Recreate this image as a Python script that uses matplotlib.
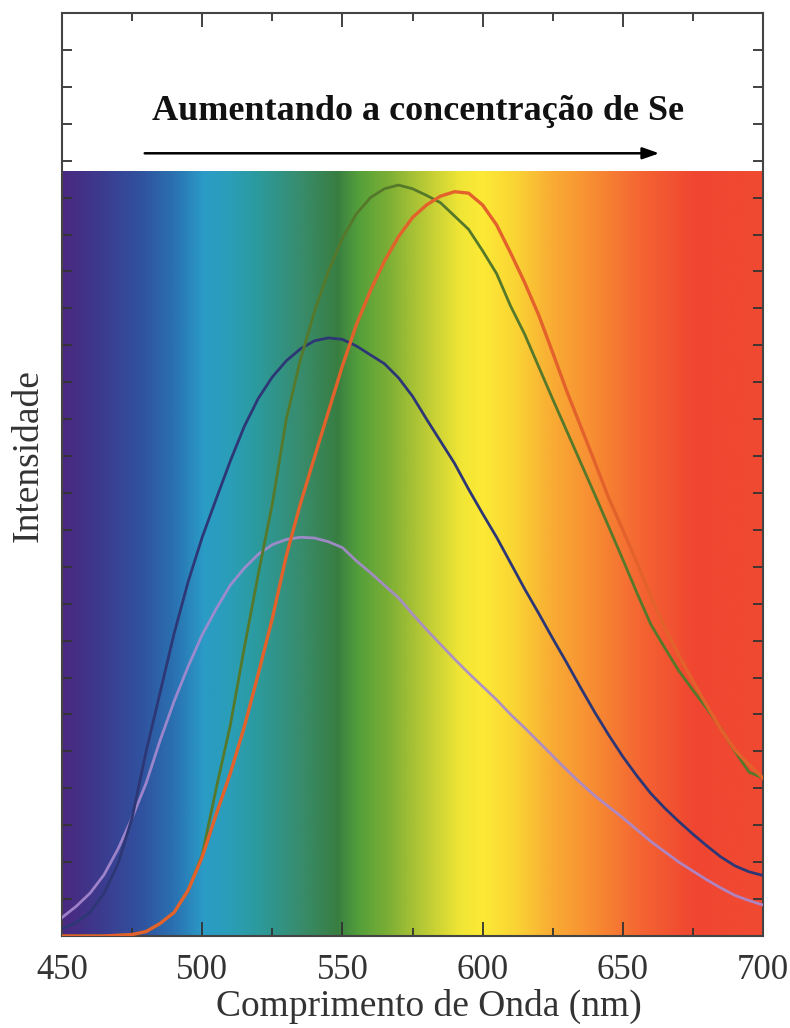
import numpy as np
import matplotlib
matplotlib.use("Agg")
import matplotlib.pyplot as plt
from matplotlib.colors import LinearSegmentedColormap

# Wavelength grid (nm)
wavelength = list(range(450, 701, 5))

# Emission spectra (arbitrary units), increasing Se concentration
se_low = [0.025, 0.040, 0.058, 0.083, 0.118, 0.160, 0.207, 0.265, 0.318, 0.365,
          0.408, 0.443, 0.475, 0.498, 0.517, 0.530, 0.537, 0.540, 0.539, 0.534,
          0.526, 0.508, 0.492, 0.475, 0.458, 0.436, 0.415, 0.395, 0.375, 0.356,
          0.338, 0.320, 0.300, 0.282, 0.263, 0.244, 0.225, 0.207, 0.190, 0.175,
          0.160, 0.144, 0.128, 0.114, 0.100, 0.088, 0.076, 0.065, 0.055, 0.048,
          0.042]
se_mid = [0.010, 0.018, 0.032, 0.058, 0.098, 0.160, 0.250, 0.330, 0.410, 0.480,
          0.540, 0.592, 0.643, 0.690, 0.728, 0.757, 0.779, 0.795, 0.806, 0.810,
          0.808, 0.799, 0.787, 0.775, 0.756, 0.731, 0.700, 0.670, 0.640, 0.605,
          0.572, 0.540, 0.505, 0.470, 0.437, 0.403, 0.370, 0.336, 0.303, 0.272,
          0.243, 0.217, 0.193, 0.173, 0.155, 0.138, 0.122, 0.107, 0.095, 0.087,
          0.082]
se_high = [0.000, 0.000, 0.000, 0.000, 0.001, 0.002, 0.006, 0.017, 0.032, 0.062,
           0.110, 0.200, 0.285, 0.390, 0.490, 0.585, 0.700, 0.780, 0.845, 0.900,
           0.945, 0.978, 1.000, 1.012, 1.017, 1.012, 1.003, 0.993, 0.975, 0.957,
           0.928, 0.897, 0.853, 0.815, 0.771, 0.727, 0.684, 0.641, 0.598, 0.554,
           0.510, 0.465, 0.422, 0.390, 0.359, 0.333, 0.308, 0.281, 0.250, 0.222,
           0.214]
se_max = [0.000, 0.000, 0.000, 0.000, 0.001, 0.002, 0.006, 0.017, 0.032, 0.062,
          0.107, 0.165, 0.220, 0.283, 0.355, 0.430, 0.515, 0.585, 0.648, 0.710,
          0.772, 0.828, 0.874, 0.914, 0.947, 0.973, 0.990, 1.002, 1.008, 1.006,
          0.990, 0.963, 0.925, 0.885, 0.841, 0.790, 0.738, 0.690, 0.642, 0.593,
          0.550, 0.506, 0.460, 0.417, 0.380, 0.345, 0.312, 0.280, 0.252, 0.232,
          0.214]

x_ticks = [450, 500, 550, 600, 650, 700]
title_text = "Aumentando a concentração de Se"
x_label = "Comprimento de Onda (nm)"
y_label = "Intensidade"

# Visible-spectrum colour stops (wavelength, colour)
spectrum_stops = [
    (450, "#4a2980"), (463, "#3c3a8e"), (478, "#30529f"), (490, "#2a72b2"),
    (500, "#2a9bc6"), (510, "#2a9eb8"), (520, "#2c9a9c"), (535, "#388c6c"),
    (548, "#387e42"), (556, "#55a03a"), (566, "#7aae35"), (580, "#bccb35"),
    (592, "#f0e535"), (600, "#fdea36"), (612, "#fad434"), (625, "#f9ac34"),
    (640, "#f78c33"), (658, "#f46232"), (676, "#f04631"), (700, "#f04a31"),
]

serif = ["Liberation Serif", "DejaVu Serif"]
plt.rcParams["font.family"] = serif

fig = plt.figure(figsize=(7.9, 10.28), dpi=100)
ax = fig.add_axes([62 / 790, 92 / 1028, 701 / 790, 923 / 1028])

xmin, xmax = 450, 700
ymin, ymax = 0.0, 1.25
spec_top = 1.035

# Spectrum background
cmap = LinearSegmentedColormap.from_list(
    "spectrum",
    [((w - xmin) / (xmax - xmin), c) for w, c in spectrum_stops],
)
grad = np.linspace(0, 1, 1000).reshape(1, -1)
ax.imshow(grad, cmap=cmap, aspect="auto", extent=[xmin, xmax, ymin, spec_top],
          interpolation="bilinear", zorder=0)

# Emission curves
ax.plot(wavelength, se_low, color="#a88ad0", lw=2.0, alpha=0.9, zorder=3)
ax.plot(wavelength, se_mid, color="#2e3775", lw=2.0, zorder=3)
ax.plot(wavelength, se_high, color="#56782a", lw=2.0, zorder=3)
ax.plot(wavelength, se_max, color="#e3622c", lw=2.4, zorder=4)

ax.set_xlim(xmin, xmax)
ax.set_ylim(ymin, ymax)

# Annotation: arrow and caption
ax.annotate("", xy=(663, 1.060), xytext=(479.5, 1.060),
            arrowprops=dict(arrowstyle="-|>,head_length=1.0,head_width=0.35",
                            color="black", lw=1.8, shrinkA=0, shrinkB=0),
            zorder=5)
ax.text(577, 1.116, title_text, ha="center", va="center", fontsize=26,
        fontweight="bold", color="#111111", family=serif)

# Ticks and spines
ax.set_xticks(x_ticks)
ax.set_xticks(np.arange(475, 700, 50), minor=True)
ax.set_yticks(np.arange(0, 1.2501, 0.05))
ax.set_yticklabels([])
ax.tick_params(axis="both", which="both", direction="in", top=True, right=True,
               color="#333333", width=1.3)
ax.tick_params(axis="x", which="major", length=10, labelsize=25,
               labelcolor="#333333", pad=13)
ax.tick_params(axis="x", which="minor", length=6)
ax.tick_params(axis="y", which="major", length=7)
for s in ax.spines.values():
    s.set_color("#444444")
    s.set_linewidth(1.5)

ax.set_xlabel(x_label, fontsize=27, color="#333333")
ax.set_ylabel(y_label, fontsize=27, color="#333333")
ax.xaxis.set_label_coords(0.5235, -0.057)
ax.yaxis.set_label_coords(-0.024, 0.521)

fig.savefig("out.png", dpi=100, facecolor="white")
